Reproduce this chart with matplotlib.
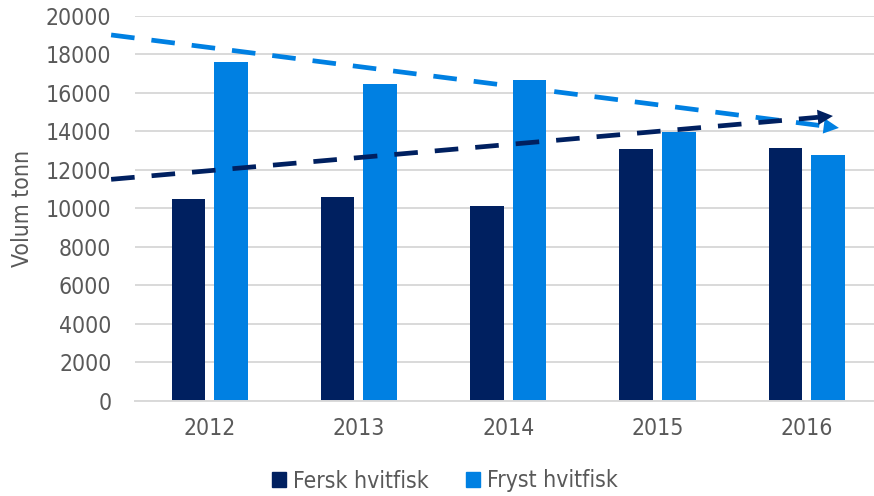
import matplotlib
matplotlib.use("Agg")
import matplotlib.pyplot as plt
from matplotlib.patches import Patch
import numpy as np

# Data
years = ["2012", "2013", "2014", "2015", "2016"]
fersk = [10500, 10580, 10100, 13060, 13110]
fryst = [17580, 16450, 16660, 13980, 12760]
series_names = ["Fersk hvitfisk", "Fryst hvitfisk"]

# Hand-drawn trend arrows (start / tip, in category and volume units)
fersk_trend_x = [-0.66, 4.175]
fersk_trend_y = [11500, 14790]
fryst_trend_x = [-0.66, 4.215]
fryst_trend_y = [19000, 14170]

dark = "#002060"
light = "#0080E2"
grey_text = "#595959"
grid_col = "#D9D9D9"

plt.rcParams["font.family"] = ["DejaVu Sans"]
plt.rcParams["font.stretch"] = "condensed"
fs = 16.5

fig = plt.figure(figsize=(8.74, 4.96), dpi=100)
ax = fig.add_axes([135 / 874, 95.3 / 496, 739 / 874, 385 / 496])

x = np.arange(len(years))
w = 0.225
off = 0.143
ax.bar(x - off, fersk, w, color=dark, zorder=2)
ax.bar(x + off, fryst, w, color=light, zorder=2)

ax.set_xlim(-0.5, 4.45)
ax.set_ylim(0, 20000)
ax.set_yticks(np.arange(0, 20001, 2000))
ax.set_xticks(x)
ax.set_xticklabels(years)
ax.yaxis.grid(True, color=grid_col, lw=1.4, zorder=0)
ax.set_axisbelow(True)
for s in ["top", "right", "left"]:
    ax.spines[s].set_visible(False)
ax.spines["bottom"].set_color(grid_col)
ax.spines["bottom"].set_linewidth(1.4)
ax.tick_params(axis="y", length=0, pad=17, labelsize=fs, labelcolor=grey_text)
ax.tick_params(axis="x", length=0, pad=12, labelsize=fs, labelcolor=grey_text)

ax.set_ylabel("Volum tonn", fontsize=fs, color=grey_text)
ax.yaxis.set_label_coords(-0.136, 0.5)


def trend_arrow(tx, ty, color):
    # dashed shaft stopping at the head base, then a solid head
    frac = 1 - 0.1 / (tx[1] - tx[0])
    bx = tx[0] + (tx[1] - tx[0]) * frac
    by = ty[0] + (ty[1] - ty[0]) * frac
    ax.plot([tx[0], bx], [ty[0], by], color=color, lw=3.4,
            ls=(0, (5.0, 3.6)), solid_capstyle="butt", dash_capstyle="butt",
            clip_on=False, zorder=4)
    ax.annotate("", xy=(tx[1], ty[1]), xytext=(bx, by),
                arrowprops=dict(arrowstyle="-|>,head_length=11,head_width=5.5",
                                mutation_scale=1, color=color, lw=0,
                                shrinkA=0, shrinkB=0),
                annotation_clip=False, zorder=5)


trend_arrow(fryst_trend_x, fryst_trend_y, light)
trend_arrow(fersk_trend_x, fersk_trend_y, dark)

handles = [Patch(color=dark), Patch(color=light)]
fig.legend(handles, series_names, loc="center", bbox_to_anchor=(445 / 874, 1 - 481 / 496),
           ncol=2, frameon=False, fontsize=fs, labelcolor=grey_text,
           handlelength=0.6, handleheight=0.6, handletextpad=0.3, columnspacing=1.65)

fig.savefig("out.png", dpi=100)
